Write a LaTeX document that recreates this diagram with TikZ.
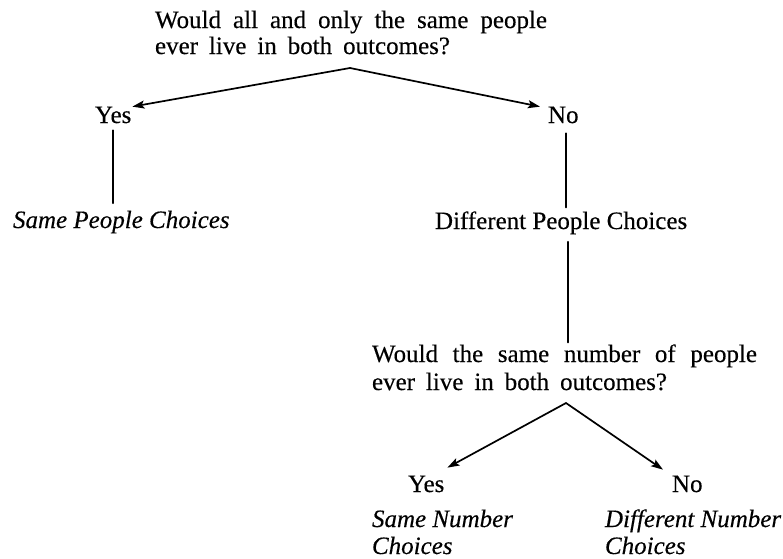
\documentclass[tikz,border=0pt]{standalone}
\usepackage{fontspec}
\setmainfont{Liberation Serif}[FakeBold=0.3]
\usetikzlibrary{arrows.meta}
\tikzset{
  txt/.style={inner sep=0pt, outer sep=0pt, font=\fontsize{25}{27}\selectfont, align=left, anchor=base west},
  itxt/.style={txt, font=\fontsize{25}{27}\selectfont\itshape},
  conn/.style={line width=1.7pt, line cap=round},
  arr/.style={conn, -{Stealth[length=12pt,width=8pt,inset=2.5pt]}}
}
\begin{document}
\begin{tikzpicture}[x=1pt,y=-1pt]
\useasboundingbox[fill=white] (0,0) rectangle (783,558);
% first question (base anchor = baseline of the last line)
\node[txt] (q1) at (155,54) {\makebox[392pt][s]{Would all and only the same people}\\[-1pt]\makebox[295pt][s]{ever live in both outcomes?}};
\coordinate (ap1) at (350,68);
\node[txt] (yes1) at (95,123) {Yes};
\node[txt] (no1) at (548,123) {No};
\node[itxt] (spc) at (13,228) {Same People Choices};
\node[txt] (dpc) at (435,229) {Different People Choices};
% second question
\node[txt] (q2) at (372,390) {\makebox[385pt][s]{Would the same number of people}\\[1pt]\makebox[295pt][s]{ever live in both outcomes?}};
\coordinate (ap2) at (566,403);
\node[txt] (yes2) at (408,492) {Yes};
\node[txt] (no2) at (672,492) {No};
\node[itxt] (snc) at (372,554) {Same Number\\Choices};
\node[itxt] (dnc) at (605,554) {Different Number\\Choices};
% connectors
\draw[arr] (ap1) -- ([xshift=1pt]yes1.north east);
\draw[arr] (ap1) -- ([xshift=-8pt]no1.north west);
\draw[conn] ([yshift=-7pt]yes1.south) -- ([yshift=7.5pt]yes1.south |- spc.north);
\draw[conn] ([xshift=3pt,yshift=-10pt]no1.south) -- ([xshift=3pt,yshift=4pt]no1.south |- dpc.north);
\draw[conn] ([xshift=5pt,yshift=-7.5pt]no1.south |- dpc.south) -- ([xshift=5pt,yshift=2pt]no1.south |- q2.north);
\draw[arr] (ap2) -- ([xshift=3pt,yshift=8pt]yes2.north east);
\draw[arr] (ap2) -- ([xshift=-9pt,yshift=6pt]no2.north west);
\end{tikzpicture}
\end{document}
